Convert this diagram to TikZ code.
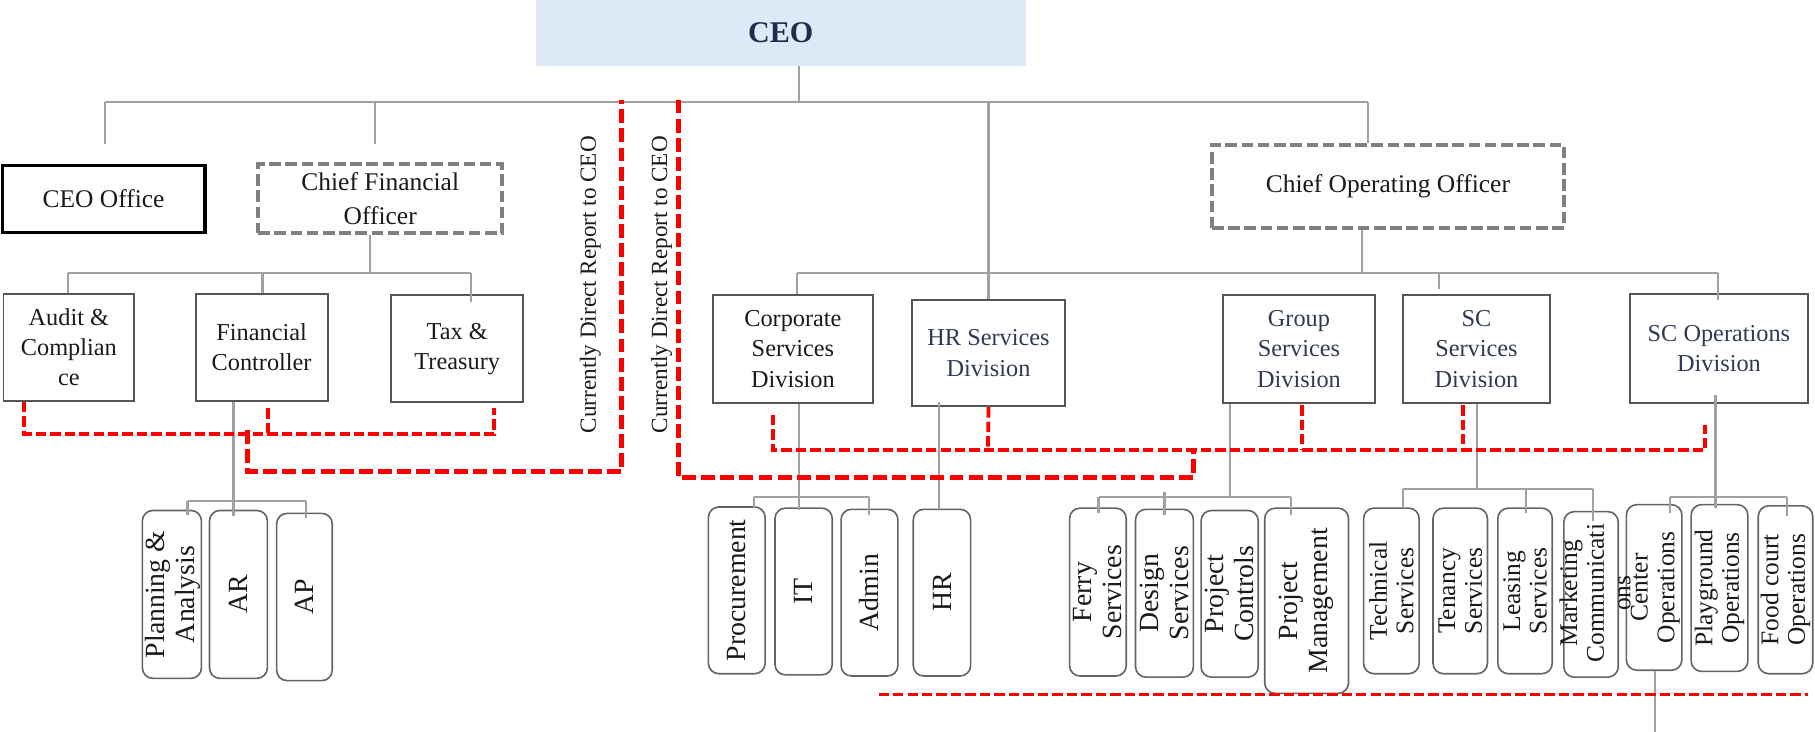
\documentclass[tikz,border=0pt]{standalone}
\usepackage{fontspec}
\setmainfont{Liberation Serif}
\newcommand\hf{\fontsize{21}{26}\selectfont}
\newcommand\rfa{\fontsize{24}{26}\selectfont}
\newcommand\rfb{\fontsize{22}{23}\selectfont}
\definecolor{ceoblue}{RGB}{221,233,246}
\definecolor{navy}{RGB}{31,45,77}
\definecolor{slate}{RGB}{48,58,84}
\definecolor{txt}{RGB}{26,26,26}
\definecolor{lnk}{RGB}{160,160,160}
\definecolor{bx}{RGB}{85,85,85}
\definecolor{dbx}{RGB}{128,128,128}
\definecolor{rbx}{RGB}{100,100,100}
\definecolor{rd}{RGB}{255,0,0}
\begin{document}
\begin{tikzpicture}[x=1pt,y=-1pt,
  wh/.style 2 args={minimum width=#1,minimum height=#2},
  conn/.style={draw=lnk,line width=1.8pt},
  rdash/.style={draw=rd,line width=3.3pt,dash pattern=on 9pt off 3.5pt},
  rdashb/.style={draw=rd,line width=4.3pt,dash pattern=on 12pt off 4.5pt},
  box/.style={draw=bx,line width=1.6pt,inner sep=0pt,align=center,font=\hf,text=txt},
  sbox/.style={box,text=slate},
  dbox/.style={draw=dbx,line width=3.3pt,dash pattern=on 10pt off 4pt,inner sep=0pt,align=center,font=\fontsize{22}{29}\selectfont,text=txt},
  rbox/.style={draw=rbx,line width=1.4pt,rounded corners=9pt,inner sep=0pt},
  rtxt/.style={rotate=90,align=center,inner sep=0pt,font=\rfa,text=txt},
  rtxtb/.style={rotate=90,align=center,inner sep=0pt,font=\rfb,text=txt},
  vlabel/.style={rotate=90,inner sep=0pt,font=\fontsize{20}{24}\selectfont,text=txt}
]
\useasboundingbox (0,0) rectangle (1568,632);

% ---------- top level ----------
\node[fill=ceoblue,wh={423}{57},inner sep=0pt,font=\fontsize{26}{30}\selectfont\bfseries,text=navy] (ceo) at (674.5,28.5) {CEO};
\node[draw=black,line width=3pt,wh={175}{58},inner sep=0pt,font=\fontsize{22}{26}\selectfont,text=txt] (ceooff) at (89.5,172) {CEO Office};
\node[dbox,wh={211}{59.6}] (cfo) at (328.5,171.8) {Chief Financial\\Officer};
\node[dbox,wh={304}{71.7}] (coo) at (1199,160.9) {Chief Operating Officer};

% ---------- finance ----------
\node[box,wh={113}{92.5}] (audit) at (59.5,300.25) {Audit \&\\Complian\\ce};
\node[box,wh={114}{92.5}] (fc) at (226,300.25) {Financial\\Controller};
\node[box,wh={114}{92.6}] (tax) at (395,301.3) {Tax \&\\Treasury};

% ---------- divisions ----------
\node[box,wh={138}{93}] (corp) at (685,301.5) {Corporate\\Services\\Division};
\node[sbox,wh={132}{92}] (hrs) at (854,305) {HR Services\\Division};
\node[sbox,wh={131.6}{93}] (grp) at (1122.2,301.5) {Group\\Services\\Division};
\node[sbox,wh={127}{93}] (scs) at (1275.5,301.5) {SC\\Services\\Division};
\node[sbox,wh={154}{94}] (sco) at (1485,301) {SC Operations\\Division};

% ---------- side labels ----------
\node[vlabel] (cdr1) at (510,246) {Currently Direct Report to CEO};
\node[vlabel] (cdr2) at (571.6,246) {Currently Direct Report to CEO};

% ---------- bottom boxes ----------
\node[rbox,wh={51}{145}] (pa) at (148.5,513.5) {};
\node[rbox,wh={50}{145}] (ar) at (206,513.5) {};
\node[rbox,wh={48}{144.5}] (ap) at (263,515.75) {};
\node[rbox,wh={49}{144}] (proc) at (636.5,510) {};
\node[rbox,wh={49.5}{144}] (it) at (694.25,511) {};
\node[rbox,wh={49.1}{144}] (adm) at (751.15,512) {};
\node[rbox,wh={49.5}{144}] (hr) at (813.75,512) {};
\node[rbox,wh={49}{145}] (ferry) at (948.5,511.5) {};
\node[rbox,wh={50}{145}] (des) at (1006,512.5) {};
\node[rbox,wh={49.4}{144}] (pc) at (1062.3,513) {};
\node[rbox,wh={72.4}{160}] (pm) at (1128.8,519) {};
\node[rbox,wh={48}{143}] (tech) at (1202,510.5) {};
\node[rbox,wh={47}{143}] (ten) at (1261.5,510.5) {};
\node[rbox,wh={47}{143}] (lea) at (1317.5,510.5) {};
\node[rbox,wh={47}{143}] (mkt) at (1374.5,513.5) {};
\node[rbox,wh={48}{143}] (cen) at (1429,507.5) {};
\node[rbox,wh={49}{144}] (play) at (1485.5,508) {};
\node[rbox,wh={47}{145}] (food) at (1542.5,509.5) {};

\node[rtxt] (tpa) at (149,513.5) {Planning \&\\Analysis};
\node[rtxt] (tar) at (ar.center) {AR};
\node[rtxt] (tap) at (ap.center) {AP};
\node[rtxt] (tproc) at (proc.center) {Procurement};
\node[rtxt] (tit) at (it.center) {IT};
\node[rtxt] (tadm) at (adm.center) {Admin};
\node[rtxt] (thr) at (hr.center) {HR};
\node[rtxt] (tferry) at (ferry.center) {Ferry\\Services};
\node[rtxt] (tdes) at (des.center) {Design\\Services};
\node[rtxt] (tpc) at (pc.center) {Project\\Controls};
\node[rtxt] (tpm) at (pm.center) {Project\\Management};
\node[rtxtb] (ttech) at (tech.center) {Technical\\Services};
\node[rtxtb] (tten) at (ten.center) {Tenancy\\Services};
\node[rtxtb] (tlea) at (lea.center) {Leasing\\Services};
\node[rtxtb] (tmkt) at (1378,512.5) {Marketing\\Communicati\\ons};
\node[rtxtb] (tcen) at (1430,507.5) {Center\\Operations};
\node[rtxtb] (tplay) at (play.center) {Playground\\Operations};
\node[rtxtb] (tfood) at (food.center) {Food court\\Operations};

% ---------- coordinates ----------
\coordinate (j0) at (690,88);
\coordinate (jL) at (90.6,88);
\coordinate (jC) at (324,88);
\coordinate (jR) at (1182,88);
\coordinate (eT) at (90.6,124);
\coordinate (cT) at (324,124);
\coordinate (k0) at (1176.4,236);
\coordinate (kL) at (688.7,236);
\coordinate (kS) at (1243,236);
\coordinate (kSe) at (1243,250);
\coordinate (kR) at (1484,236);
\coordinate (kRe) at (1484,259);
\coordinate (f0) at (320,236);
\coordinate (fL) at (59,236);
\coordinate (fM) at (226.8,236);
\coordinate (fR) at (407,236);
\coordinate (fRe) at (407,260.6);
\coordinate (g0) at (201.7,432.5);
\coordinate (g0e) at (201.7,446);
\coordinate (gL) at (162,432.5);
\coordinate (gLe) at (162,445);
\coordinate (gR) at (264,432.5);
\coordinate (gRe) at (264,447.6);
\coordinate (h0) at (690,429);
\coordinate (h0e) at (690,441);
\coordinate (hL) at (651,429);
\coordinate (hLe) at (651,439);
\coordinate (hR) at (750.5,429);
\coordinate (hRe) at (750.5,445);
\coordinate (hrl) at (811,347);
\coordinate (i0) at (1062.6,429);
\coordinate (iL) at (949,429);
\coordinate (iLe) at (949,443);
\coordinate (iMt) at (1006,425);
\coordinate (iMe) at (1006,445);
\coordinate (iR) at (1115,429);
\coordinate (iRe) at (1115,445);
\coordinate (s0) at (1275.7,422.7);
\coordinate (sL) at (1212,422.7);
\coordinate (sLe) at (1212,439);
\coordinate (sM) at (1318,422.7);
\coordinate (sMe) at (1318,443);
\coordinate (sR) at (1376,422.7);
\coordinate (sRe) at (1376,450);
\coordinate (o0t) at (1482,341);
\coordinate (o0e) at (1482,439);
\coordinate (oL) at (1443,429);
\coordinate (oLe) at (1443,443);
\coordinate (oR) at (1544,429);
\coordinate (oRe) at (1544,446);
\coordinate (bot) at (1430,632);

% ---------- gray connectors ----------
\draw[conn] (ceo.south -| j0) -- (j0);
\draw[conn] (jL) -- (jR);
\draw[conn] (jL) -- (eT);
\draw[conn] (jC) -- (cT);
\draw[conn] (jL -| hrs.north) -- (hrs.north);
\draw[conn] (jR) -- (jR |- coo.north);
\draw[conn] (coo.south -| k0) -- (k0);
\draw[conn] (kL) -- (kR);
\draw[conn] (kL) -- (kL |- corp.north);
\draw[conn] (kS) -- (kSe);
\draw[conn] (kR) -- (kRe);
\draw[conn] (cfo.south -| f0) -- (f0);
\draw[conn] (fL) -- (fR);
\draw[conn] (fL) -- (fL |- audit.north);
\draw[conn] (fM) -- (fM |- fc.north);
\draw[conn] (fR) -- (fRe);
\draw[conn] (fc.south -| g0) -- (g0e);
\draw[conn] (gL) -- (gR);
\draw[conn] (gL) -- (gLe);
\draw[conn] (gR) -- (gRe);
\draw[conn] (corp.south -| h0) -- (h0e);
\draw[conn] (hL) -- (hR);
\draw[conn] (hL) -- (hLe);
\draw[conn] (hR) -- (hRe);
\draw[conn] (hrl) -- (hrl |- hr.north);
\draw[conn] (grp.south -| i0) -- (i0);
\draw[conn] (iL) -- (iR);
\draw[conn] (iL) -- (iLe);
\draw[conn] (iMt) -- (iMe);
\draw[conn] (iR) -- (iRe);
\draw[conn] (scs.south -| s0) -- (s0);
\draw[conn] (sL) -- (sR);
\draw[conn] (sL) -- (sLe);
\draw[conn] (sM) -- (sMe);
\draw[conn] (sR) -- (sRe);
\draw[conn] (o0t) -- (o0e);
\draw[conn] (oL) -- (oR);
\draw[conn] (oL) -- (oLe);
\draw[conn] (oR) -- (oRe);
\draw[conn] (cen.south -| bot) -- (bot);

% ---------- red dashed ----------
\coordinate (rA1) at (21,375);
\coordinate (rA2) at (427,375);
\coordinate (rA3) at (427,352.7);
\coordinate (rF0) at (231.4,352.7);
\coordinate (rF1) at (231.4,375);
\coordinate (rB0) at (214,371.5);
\coordinate (rB1) at (214,407.5);
\coordinate (rB2) at (537,407.5);
\coordinate (rB3) at (537,86);
\coordinate (rC0) at (586,86);
\coordinate (rC1) at (586,412.7);
\coordinate (rC2) at (1031,412.7);
\coordinate (rC3) at (1031,389);
\coordinate (rD0) at (668,358.5);
\coordinate (rD1) at (668,389);
\coordinate (rD2) at (1473,389);
\coordinate (rD3) at (1473,367);
\coordinate (rH) at (853.5,389);
\coordinate (rG0) at (1125,350);
\coordinate (rG1) at (1125,389);
\coordinate (rS0) at (1264,350);
\coordinate (rS1) at (1264,389);
\coordinate (rE0) at (759,600);
\coordinate (rE1) at (1562,600);
\draw[rdash] (audit.south -| rA1) -- (rA1) -- (rA2) -- (rA3);
\draw[rdash] (rF0) -- (rF1);
\draw[rdashb] (rB0) -- (rB1) -- (rB2) -- (rB3);
\draw[rdashb] (rC0) -- (rC1) -- (rC2) -- (rC3);
\draw[rdash] (rD0) -- (rD1) -- (rD2) -- (rD3);
\draw[rdash] (hrs.south) -- (rH);
\draw[rdash] (rG0) -- (rG1);
\draw[rdash] (rS0) -- (rS1);
\draw[rdash] (rE0) -- (rE1);
\end{tikzpicture}
\end{document}
